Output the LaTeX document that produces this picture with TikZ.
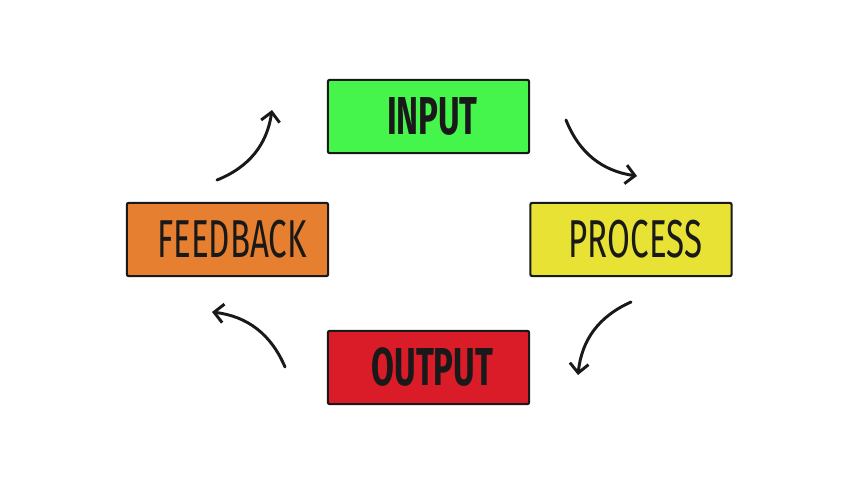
\documentclass[tikz,border=0pt]{standalone}
\usepackage{fontspec}
\setmainfont{Fira Sans}
\usepackage{graphicx}
\usetikzlibrary{arrows.meta}
\definecolor{cInput}{RGB}{70,245,75}
\definecolor{cProcess}{RGB}{232,226,52}
\definecolor{cOutput}{RGB}{218,28,40}
\definecolor{cFeedback}{RGB}{230,128,48}
\definecolor{cInk}{RGB}{25,25,25}
\tikzset{every picture/.style={line width=0.75pt},
  stage/.style={draw=cInk,line width=1.6pt,rounded corners=1.5pt,minimum width=151pt,minimum height=55pt,inner sep=0pt,text=cInk},
  loop/.style={draw=cInk,line width=2.2pt,line cap=round,-{Straight Barb[length=7pt,width=14pt,line width=2.2pt]}}}
\newcommand{\lbl}[2]{\scalebox{0.62}[1]{\fontsize{40}{40}\selectfont#1 #2}}
\begin{document}
\begin{tikzpicture}[x=0.75pt,y=0.75pt,yscale=-1,xscale=1]
\useasboundingbox (0,0) rectangle (852,480);

% Stages
\node (input) [stage,fill=cInput] at (428.5,116.5) {\lbl{\bfseries}{INPUT}};
\node (process) [stage,fill=cProcess] at (631,239.5) {\lbl{}{PROCESS}};
\node (output) [stage,fill=cOutput] at (428.5,367.5) {\lbl{\bfseries}{OUTPUT}};
\node (feedback) [stage,fill=cFeedback] at (227.5,239.5) {\lbl{}{FEEDBACK}};

% Cycle arrows
\coordinate (a1) at (566,120); \coordinate (b1) at (637,176);
\coordinate (a2) at (631,302); \coordinate (b2) at (578,375);
\coordinate (a3) at (285,367); \coordinate (b3) at (212,312);
\coordinate (a4) at (217,180); \coordinate (b4) at (272,110);
\draw [loop] (a1) to[bend left=30] (b1);
\draw [loop] (a2) to[bend left=30] (b2);
\draw [loop] (a3) to[bend left=30] (b3);
\draw [loop] (a4) to[bend left=30] (b4);

\end{tikzpicture}
\end{document}
